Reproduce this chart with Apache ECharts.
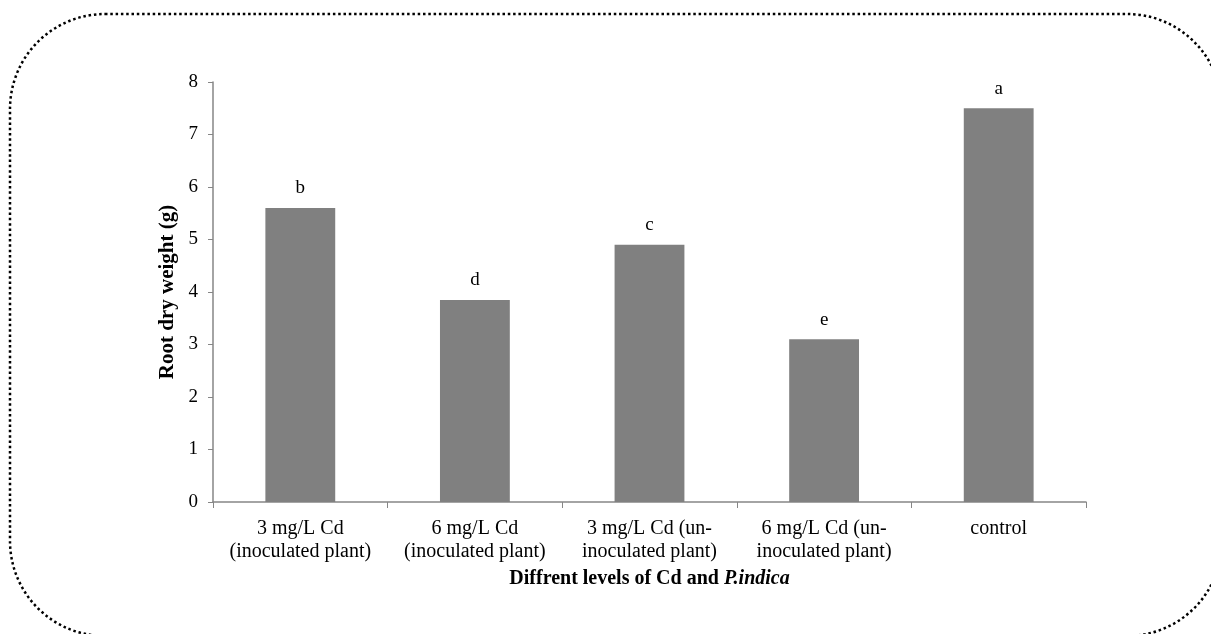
<!DOCTYPE html>
<html><head><meta charset="utf-8">
<script src="https://cdn.jsdelivr.net/npm/echarts@6/dist/echarts.min.js"></script>
<style>html,body{margin:0;padding:0;background:#fff}#c{width:1211px;height:634px}</style>
</head><body><div id="c"></div>
<script>
const categories = ["3 mg/L Cd\n(inoculated plant)", "6 mg/L Cd\n(inoculated plant)", "3 mg/L Cd (un-\ninoculated plant)", "6 mg/L Cd (un-\ninoculated plant)", "control"];
const values = [5.6, 3.85, 4.9, 3.1, 7.5];
const letters = ["b", "d", "c", "e", "a"];
const yTicks = [0, 1, 2, 3, 4, 5, 6, 7, 8];

const font = "'Liberation Serif', 'Times New Roman', serif";
const chart = echarts.init(document.getElementById('c'));
chart.setOption({
  animation: false,
  textStyle: { fontFamily: font },
  graphic: [{
    type: 'rect', silent: true, z: -1,
    shape: { x: 10, y: 14, width: 1212, height: 622, r: 95 },
    style: { fill: 'none', stroke: '#000', lineWidth: 2.5, lineDash: [2.5, 2.8] }
  }],
  grid: { left: 213, right: 125, top: 82, bottom: 132 },
  xAxis: {
    type: 'category', data: categories,
    axisLine: { lineStyle: { color: '#868686', width: 1.5 } },
    axisTick: { show: true, length: 6, lineStyle: { color: '#868686' } },
    axisLabel: { color: '#000', fontSize: 20, fontFamily: font, lineHeight: 23, margin: 15, interval: 0 },
    name: '{b|Diffrent levels of Cd and }{bi|P.indica}',
    nameLocation: 'middle', nameGap: 67,
    nameTextStyle: {
      rich: {
        b: { fontWeight: 'bold', fontSize: 20, fontFamily: font, color: '#000' },
        bi: { fontWeight: 'bold', fontStyle: 'italic', fontSize: 20, fontFamily: font, color: '#000' }
      }
    }
  },
  yAxis: {
    type: 'value', min: 0, max: 8, interval: 1,
    axisLine: { show: true, lineStyle: { color: '#868686', width: 1.5 } },
    axisTick: { show: true, length: 5, lineStyle: { color: '#868686' } },
    splitLine: { show: false },
    axisLabel: { color: '#000', fontSize: 19, fontFamily: font, margin: 15,
      formatter: v => yTicks.includes(v) ? String(v) : '' },
    name: 'Root dry weight (g)', nameLocation: 'middle', nameGap: 35,
    nameTextStyle: { fontWeight: 'bold', fontSize: 21, fontFamily: font, color: '#000' }
  },
  series: [{
    type: 'bar', data: values, barWidth: '40%',
    itemStyle: { color: '#808080' },
    label: { show: true, position: 'top', distance: 10, color: '#000', fontSize: 19, fontFamily: font,
      formatter: p => letters[p.dataIndex] }
  }]
});
</script></body></html>
